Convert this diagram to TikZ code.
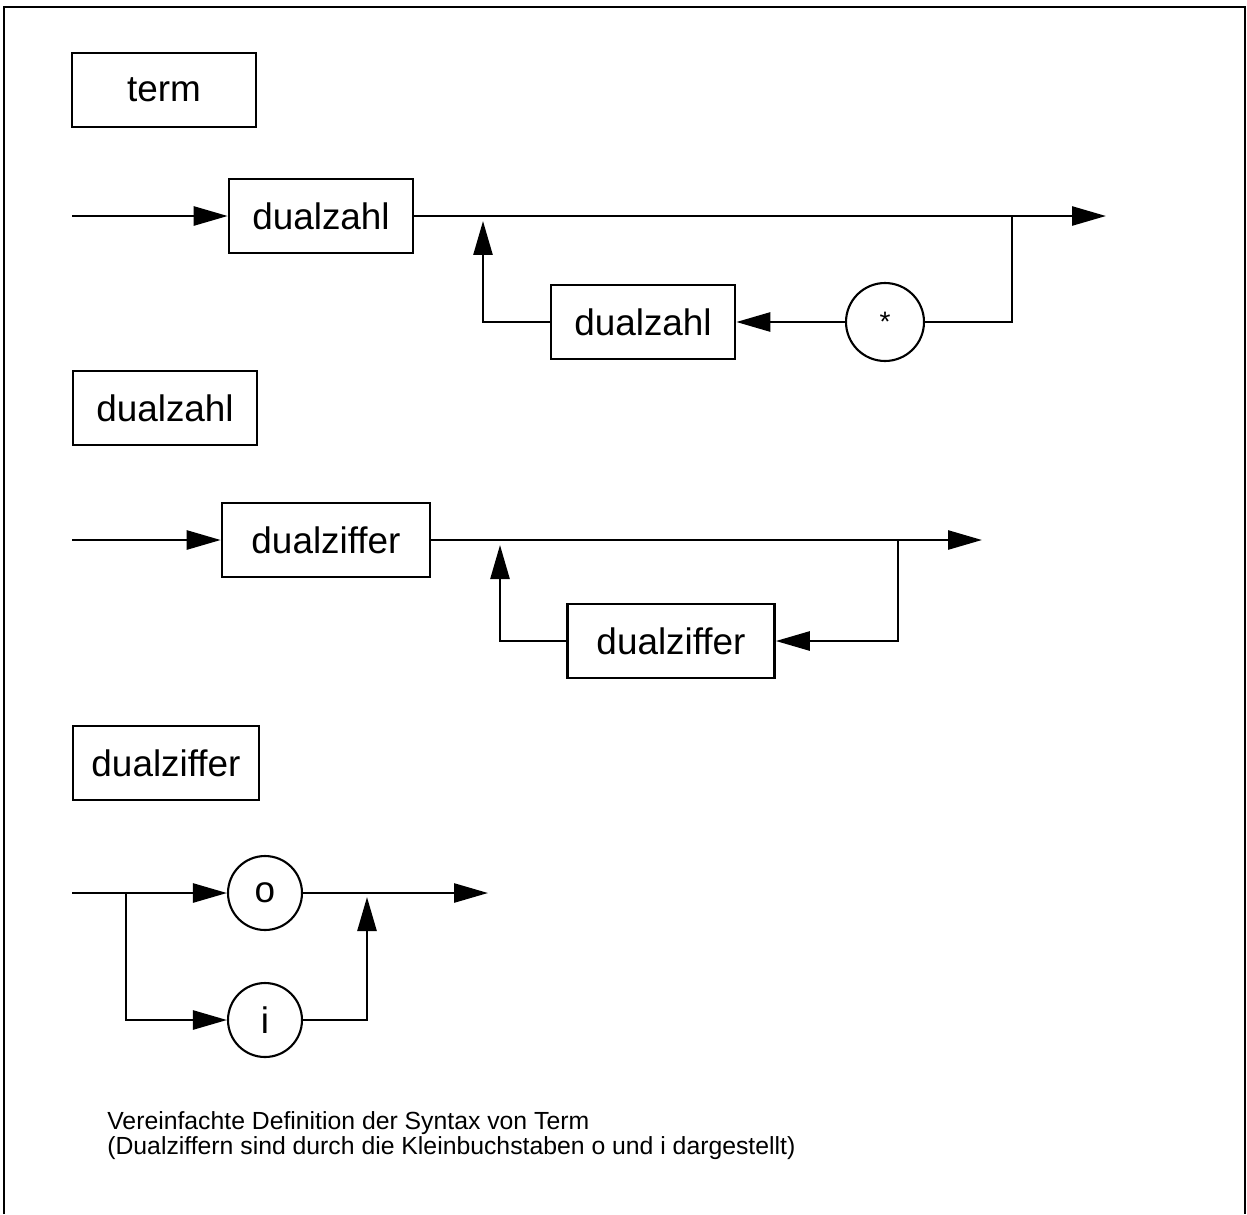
\documentclass[tikz,border=0pt]{standalone}
\usepackage{fontspec}
\setmainfont{Liberation Sans}
\usetikzlibrary{arrows.meta}

\begin{document}
\begin{tikzpicture}[x=0.02cm,y=-0.02cm,line width=1.5pt,
    kasten/.style={draw,rectangle,inner sep=0pt,minimum height=1.48cm,font=\fontsize{21}{24}\selectfont},
    kreis/.style={draw,circle,inner sep=0pt,line width=1.2pt,font=\fontsize{21}{24}\selectfont},
    pfeil/.style={-{Triangle[length=0.68cm,width=0.38cm]}}]
  \useasboundingbox (0,0) rectangle (1247,1214);
  % Rahmen
  \draw (4,1214) -- (4,7) -- (1245,7) -- (1245,1214);

  % term
  \node (hterm) at (164,90) [kasten,minimum width=3.68cm] {term};
  \coordinate (ein1) at (72,216);
  \node (dz1) at (321,216) [kasten,minimum width=3.68cm] {dualzahl};
  \node (dz2) at (643,322) [kasten,minimum width=3.68cm] {dualzahl};
  \node (stern) at (885,322) [kreis,minimum size=1.56cm,font=\fontsize{16}{18}\selectfont] {*};
  \coordinate (aus1) at (1106,216);
  \coordinate (ab1) at (1012,216);
  \coordinate (auf1) at (483,221);
  \draw[pfeil] (ein1) -- (dz1.west);
  \draw[pfeil] (dz1.east) -- (aus1);
  \draw (ab1) |- (stern.east);
  \draw[pfeil] (stern.west) -- (dz2.east);
  \draw[pfeil] (dz2.west) -| (auf1);

  % dualzahl
  \node (hdz) at (165,408) [kasten,minimum width=3.68cm] {dualzahl};
  \coordinate (ein2) at (72,540);
  \node (dzf1) at (326,540) [kasten,minimum width=4.16cm] {dualziffer};
  \node (dzf2) at (671,641) [kasten,minimum width=4.14cm] {dualziffer};
  \coordinate (aus2) at (982,540);
  \coordinate (ab2) at (898,540);
  \coordinate (auf2) at (500,545);
  \draw[pfeil] (ein2) -- (dzf1.west);
  \draw[pfeil] (dzf1.east) -- (aus2);
  \draw[pfeil] (ab2) |- (dzf2.east);
  \draw[pfeil] (dzf2.west) -| (auf2);

  % dualziffer
  \node (hdzf) at (166,763) [kasten,minimum width=3.72cm] {dualziffer};
  \coordinate (ein3) at (72,893);
  \coordinate (gab3) at (126,893);
  \node (o) at (265,893) [kreis,minimum size=1.48cm] {o};
  \node (i) at (265,1020) [kreis,minimum size=1.48cm] {i};
  \coordinate (aus3) at (488,893);
  \coordinate (auf3) at (367,897);
  \draw[pfeil] (ein3) -- (o.west);
  \draw[pfeil] (gab3) |- (i.west);
  \draw[pfeil] (o.east) -- (aus3);
  \draw[pfeil] (i.east) -| (auf3);

  % Unterschrift
  \node (text) at (106,1136) [anchor=west,align=left,inner sep=0pt,font=\fontsize{14.1}{14.2}\selectfont]
    {Vereinfachte Definition der Syntax von Term\\
     (Dualziffern sind durch die Kleinbuchstaben o und i dargestellt)};
\end{tikzpicture}
\end{document}
